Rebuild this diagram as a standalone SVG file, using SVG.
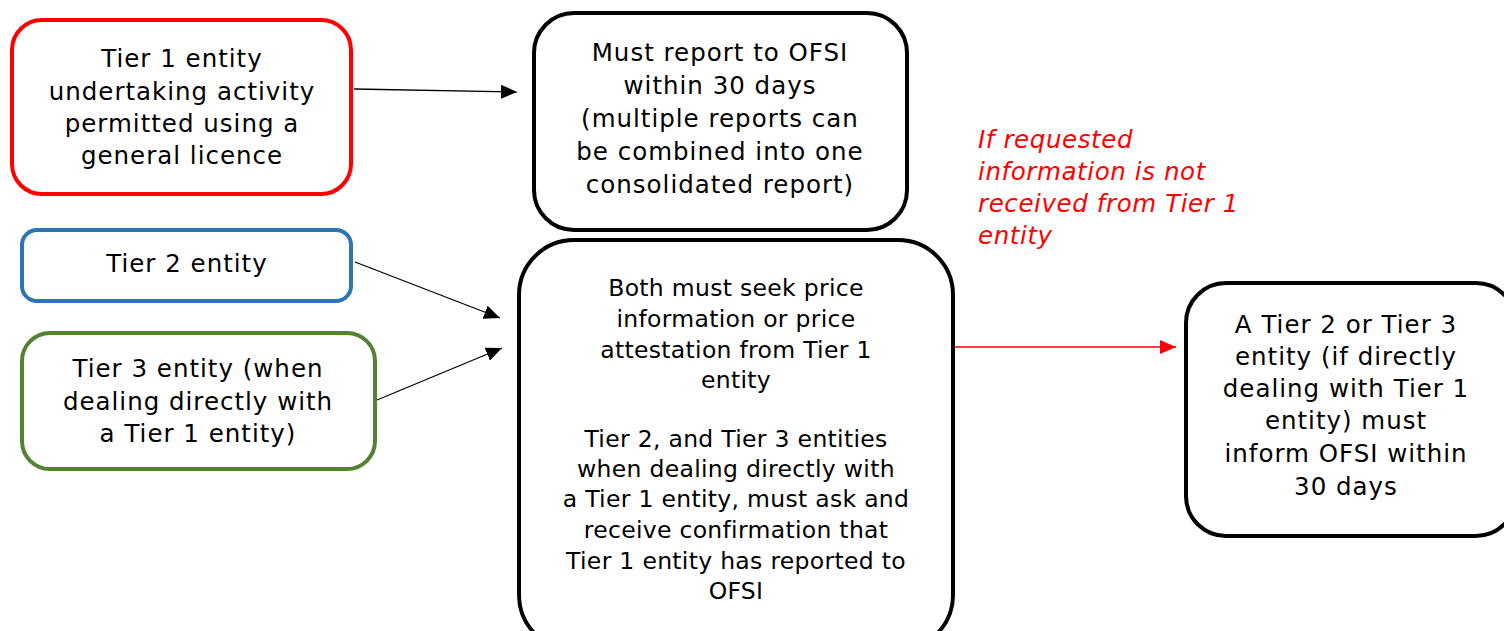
<svg xmlns="http://www.w3.org/2000/svg" width="1504" height="631" viewBox="0 0 1504 631">
<style>
.box{fill:#fff;stroke-width:4}
.t{font-family:"DejaVu Sans",sans-serif;font-size:24.5px;letter-spacing:1px;fill:#000;text-anchor:middle;dominant-baseline:central}
.s{font-size:23.5px;letter-spacing:0.3px}
.r{font-family:"DejaVu Sans",sans-serif;font-size:24.5px;letter-spacing:0.6px;fill:#ff0000;font-style:italic;dominant-baseline:central}
.c{fill:none;stroke:#000;stroke-width:1.3}
</style>
<defs>
<marker id="ab" markerUnits="userSpaceOnUse" markerWidth="18" markerHeight="14" refX="16" refY="7" orient="auto"><path d="M0,0 L16,7 L0,14 Z" fill="#000"/></marker>
<marker id="ar" markerUnits="userSpaceOnUse" markerWidth="18" markerHeight="14" refX="16" refY="7" orient="auto"><path d="M0,0 L16,7 L0,14 Z" fill="#ff0000"/></marker>
</defs>
<rect width="1504" height="631" fill="#fff"/>
<g id="connectors">
<line class="c" x1="354" y1="89" x2="517" y2="92" marker-end="url(#ab)"/>
<line class="c" x1="355" y1="262" x2="500" y2="318" marker-end="url(#ab)"/>
<line class="c" x1="377" y1="400" x2="502" y2="348" marker-end="url(#ab)"/>
<line class="c" x1="955" y1="347" x2="1176" y2="347" style="stroke:#ff0000" marker-end="url(#ar)"/>
</g>
<g id="tier1">
<rect class="box" x="12" y="20" width="339" height="174" rx="30" stroke="#ff0000"/>
<text class="t" x="182" y="58">Tier 1 entity</text>
<text class="t" x="182" y="91">undertaking activity</text>
<text class="t" x="182" y="123">permitted using a</text>
<text class="t" x="182" y="155">general licence</text>
</g>
<g id="report">
<rect class="box" x="534" y="13" width="373" height="217" rx="40" stroke="#000"/>
<text class="t" x="720" y="52">Must report to OFSI</text>
<text class="t" x="720" y="85">within 30 days</text>
<text class="t" x="720" y="118">(multiple reports can</text>
<text class="t" x="720" y="151">be combined into one</text>
<text class="t" x="720" y="184">consolidated report)</text>
</g>
<g id="tier2">
<rect class="box" x="22" y="230" width="329" height="71" rx="15" stroke="#2e75b6"/>
<text class="t" x="187" y="263">Tier 2 entity</text>
</g>
<g id="tier3">
<rect class="box" x="22" y="333" width="353" height="136" rx="28" stroke="#548235"/>
<text class="t" x="198" y="368">Tier 3 entity (when</text>
<text class="t" x="198" y="401">dealing directly with</text>
<text class="t" x="198" y="433">a Tier 1 entity)</text>
</g>
<g id="both">
<rect class="box" x="519" y="240" width="434" height="410" rx="55" stroke="#000"/>
<text class="t s" x="736" y="288">Both must seek price</text>
<text class="t s" x="736" y="319">information or price</text>
<text class="t s" x="736" y="350">attestation from Tier 1</text>
<text class="t s" x="736" y="380">entity</text>
<text class="t s" x="736" y="439">Tier 2, and Tier 3 entities</text>
<text class="t s" x="736" y="469">when dealing directly with</text>
<text class="t s" x="736" y="499">a Tier 1 entity, must ask and</text>
<text class="t s" x="736" y="530">receive confirmation that</text>
<text class="t s" x="736" y="561">Tier 1 entity has reported to</text>
<text class="t s" x="736" y="591">OFSI</text>
</g>
<g id="condition">
<text class="r" x="978" y="139">If requested</text>
<text class="r" x="978" y="171">information is not</text>
<text class="r" x="978" y="203">received from Tier 1</text>
<text class="r" x="978" y="235">entity</text>
</g>
<g id="inform">
<rect class="box" x="1186" y="283" width="330" height="253" rx="40" stroke="#000"/>
<text class="t" x="1346" y="324">A Tier 2 or Tier 3</text>
<text class="t" x="1346" y="356">entity (if directly</text>
<text class="t" x="1346" y="388">dealing with Tier 1</text>
<text class="t" x="1346" y="420">entity) must</text>
<text class="t" x="1346" y="453">inform OFSI within</text>
<text class="t" x="1346" y="486">30 days</text>
</g>
</svg>
